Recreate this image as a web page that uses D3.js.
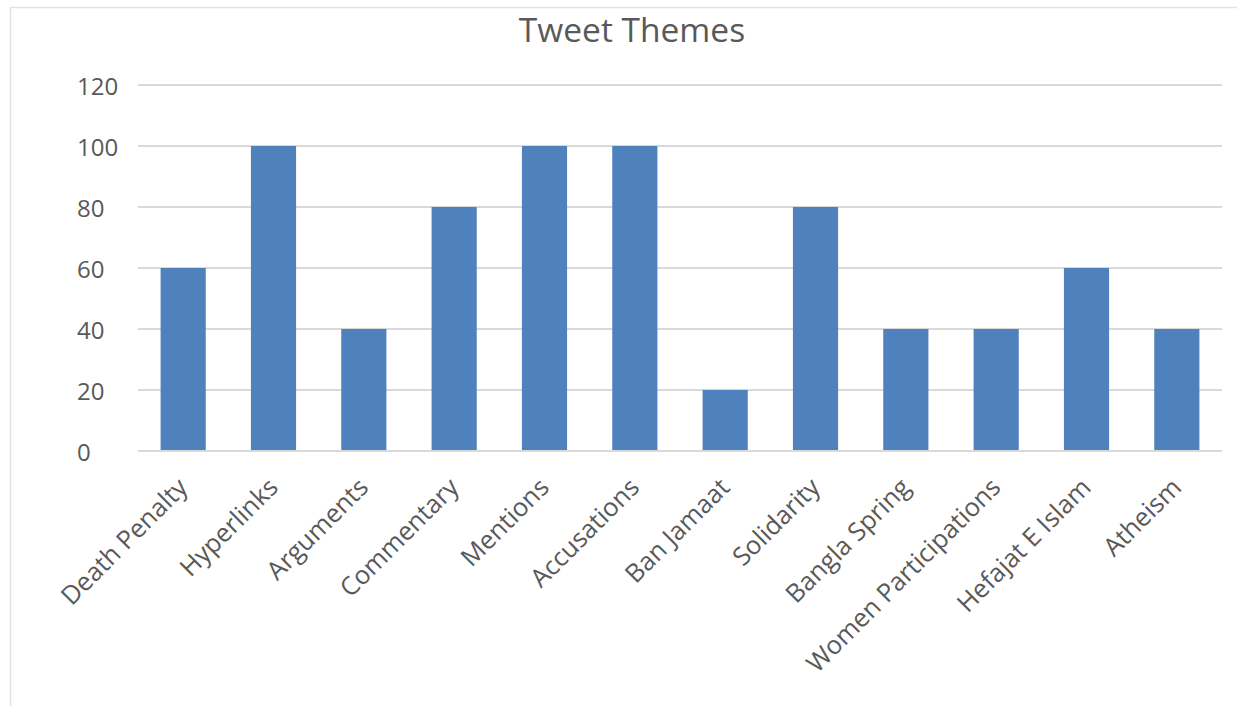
<!DOCTYPE html>
<html>
<head>
<meta charset="utf-8">
<script src="https://cdn.jsdelivr.net/npm/d3@7"></script>
<style>
  html, body { margin: 0; padding: 0; background: #fff; }
  svg { display: block; }
  text { font-family: "Open Sans", "Noto Sans", sans-serif; fill: #595959; }
</style>
</head>
<body>
<svg id="chart" width="1237" height="706"></svg>
<script>
// Tweet theme counts
const categories = ["Death Penalty", "Hyperlinks", "Arguments", "Commentary", "Mentions",
  "Accusations", "Ban Jamaat", "Solidarity", "Bangla Spring", "Women Participations",
  "Hefajat E Islam", "Atheism"];
const counts = [60, 100, 40, 80, 100, 100, 20, 80, 40, 40, 60, 40];
const yTicks = [0, 20, 40, 60, 80, 100, 120];
const chartTitle = "Tweet Themes";

const svg = d3.select("#chart");
const W = 1237, H = 706;
const plot = { left: 138, right: 1222, top: 85, bottom: 451 };

// Chart border
svg.append("rect")
  .attr("x", 10.5).attr("y", 7.5)
  .attr("width", W + 20).attr("height", H + 20)
  .attr("fill", "none").attr("stroke", "#e3e3e3").attr("stroke-width", 1.5);

const x = d3.scaleBand().domain(categories).range([plot.left, plot.right]).paddingInner(0.5).paddingOuter(0.25);
const y = d3.scaleLinear().domain([0, 120]).range([plot.bottom, plot.top]);

// Gridlines
svg.append("g").selectAll("line").data(yTicks).join("line")
  .attr("x1", plot.left).attr("x2", plot.right)
  .attr("y1", d => y(d)).attr("y2", d => y(d))
  .attr("stroke", "#d9d9d9").attr("stroke-width", 2);

// Y axis labels
const yAxis = d3.axisLeft(y).tickValues(yTicks).tickSize(0).tickPadding(0);
const gy = svg.append("g").attr("transform", `translate(${plot.left},0)`).call(yAxis);
gy.select(".domain").remove();
gy.selectAll("text")
  .attr("x", 77 - plot.left)
  .attr("text-anchor", "start")
  .attr("dy", "0.4em")
  .style("font-size", "24px")
  .style("font-family", "'Open Sans', sans-serif")
  .attr("fill", "#595959");

// Bars
svg.append("g").selectAll("rect").data(categories).join("rect")
  .attr("x", d => x(d))
  .attr("width", x.bandwidth())
  .attr("y", (d, i) => y(counts[i]))
  .attr("height", (d, i) => y(0) - y(counts[i]))
  .attr("fill", "#4f81bd");

// Baseline
svg.append("line")
  .attr("x1", plot.left).attr("x2", plot.right)
  .attr("y1", y(0)).attr("y2", y(0))
  .attr("stroke", "#d9d9d9").attr("stroke-width", 2);

// X axis labels, rotated
const xAxis = d3.axisBottom(x).tickSize(0).tickPadding(0);
const gx = svg.append("g").attr("transform", `translate(0,${plot.bottom})`).call(xAxis);
gx.select(".domain").remove();
gx.selectAll("text")
  .attr("text-anchor", "end")
  .attr("dy", null)
  .attr("y", 0)
  .attr("transform", "translate(6,38) rotate(-45)")
  .style("font-size", "25.5px")
  .style("font-family", "'Open Sans', sans-serif")
  .attr("fill", "#595959");

// Title
svg.append("text")
  .attr("x", 632).attr("y", 42)
  .attr("text-anchor", "middle")
  .style("font-size", "33.5px")
  .attr("fill", "#595959")
  .text(chartTitle);
</script>
</body>
</html>
